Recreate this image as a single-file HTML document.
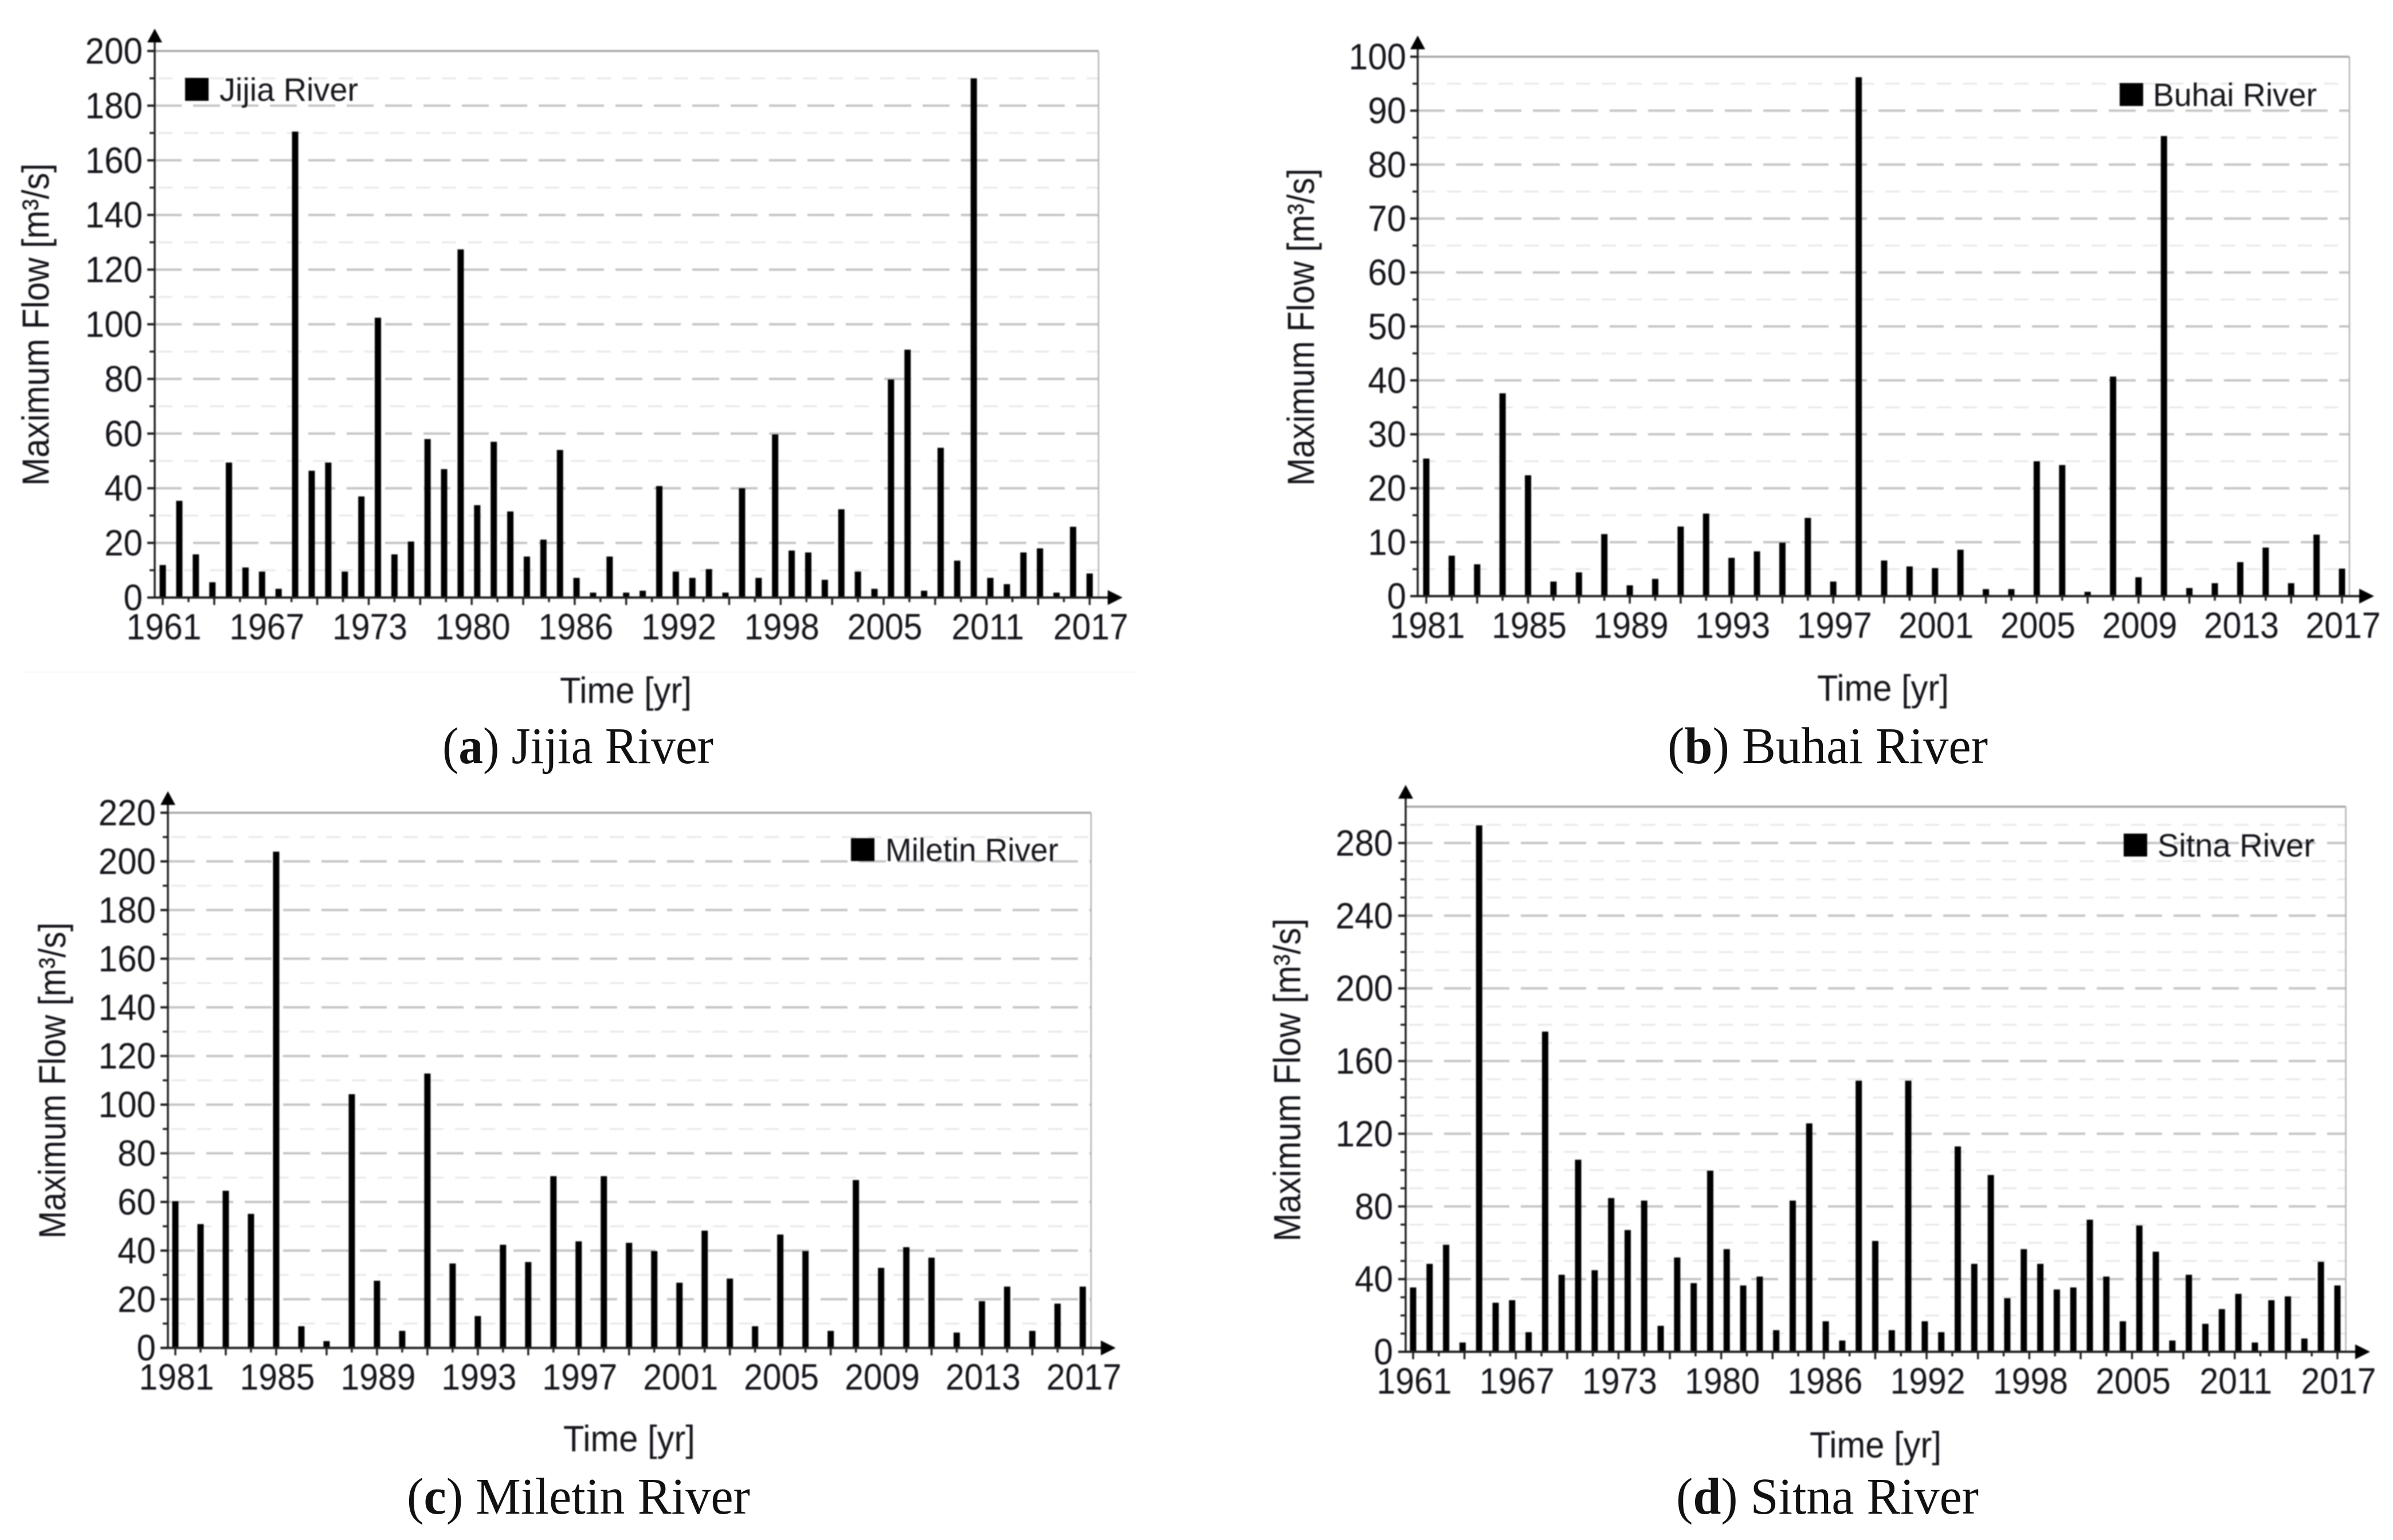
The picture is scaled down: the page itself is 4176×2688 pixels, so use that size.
<!DOCTYPE html>
<html lang="en">
<head>
<meta charset="utf-8">
<title>Maximum Flow of Four Rivers</title>
<style>
html,body{margin:0;padding:0;background:#fff;}
body{width:4176px;height:2688px;overflow:hidden;}
svg{display:block;}
.chart-ink{filter:blur(1.1px);}
.sans{font-family:"Liberation Sans",Arial,sans-serif;fill:#15151c;}
.serif{font-family:"Liberation Serif","Times New Roman",serif;fill:#111;}
</style>
</head>
<body>
<svg id="figure" xmlns="http://www.w3.org/2000/svg" width="4176" height="2688" viewBox="0 0 4176 2688">
<rect x="0" y="0" width="4176" height="2688" fill="#ffffff"/>
<line x1="40" y1="1173" x2="1985" y2="1173" stroke="#f5fbfb" stroke-width="3"/>
</svg>
<script>
const yearsFrom1961 = [1961,1962,1963,1964,1965,1966,1967,1968,1969,1970,1971,1972,1973,1974,1975,1976,1977,1978,1979,1980,1981,1982,1983,1984,1985,1986,1987,1988,1989,1990,1991,1992,1993,1994,1995,1996,1997,1998,1999,2000,2001,2002,2003,2004,2005,2006,2007,2008,2009,2010,2011,2012,2013,2014,2015,2016,2017];
const yearsFrom1981 = [1981,1982,1983,1984,1985,1986,1987,1988,1989,1990,1991,1992,1993,1994,1995,1996,1997,1998,1999,2000,2001,2002,2003,2004,2005,2006,2007,2008,2009,2010,2011,2012,2013,2014,2015,2016,2017];

const jijiaValues = [11.9,35.4,15.8,5.6,49.4,11,9.5,3.2,170.5,46.4,49.4,9.5,37,102.4,15.8,20.5,58,47,127.4,33.8,57,31.5,15,21.2,54,7.2,1.8,15,1.8,2.5,40.8,9.5,7.2,10.4,1.8,40,7.2,59.7,17.2,16.5,6.5,32.3,9.5,3.2,79.8,90.7,2.5,54.8,13.5,190,7.2,4.9,16.5,18,1.8,25.9,8.8];
const buhaiValues = [25.5,7.5,5.9,37.6,22.4,2.7,4.4,11.5,2,3.2,12.9,15.3,7.1,8.3,9.9,14.5,2.7,96.2,6.6,5.5,5.2,8.6,1.3,1.3,25,24.3,0.8,40.7,3.5,85.3,1.5,2.4,6.3,9,2.4,11.4,5.1];
const miletinValues = [60.3,50.9,64.6,55.1,204,8.9,2.8,104.3,27.6,7,112.8,34.7,13.1,42.4,35.3,70.6,43.8,70.6,43.2,39.8,26.8,48.2,28.5,8.9,46.6,39.8,7,69,32.9,41.4,37.1,6.3,19.2,25.2,7,18.2,25.2];
const sitnaValues = [35.4,48.4,58.9,5.1,289.7,27,28.4,10.8,176.2,42.4,105.7,44.9,84.6,67,83.2,14.3,51.9,37.8,99.7,56.5,36.5,41.4,11.9,83.2,125.7,16.8,6.2,149.2,61,11.9,149.2,16.8,10.8,113,48.4,97.3,29.5,56.5,48.4,34.3,35.4,72.7,41.4,16.8,69.5,55.1,6.2,42.4,15.4,23.5,31.9,5.1,28.4,30.5,7.3,49.5,36.5];

const xLabels1961 = ["1961","1967","1973","1980","1986","1992","1998","2005","2011","2017"];
const xLabels1981 = ["1981","1985","1989","1993","1997","2001","2005","2009","2013","2017"];
const jijiaYTicks = [0,20,40,60,80,100,120,140,160,180,200];
const jijiaYMinor = [10,30,50,70,90,110,130,150,170,190];
const buhaiYTicks = [0,10,20,30,40,50,60,70,80,90,100];
const buhaiYMinor = [5,15,25,35,45,55,65,75,85,95];
const miletinYTicks = [0,20,40,60,80,100,120,140,160,180,200,220];
const miletinYMinor = [10,30,50,70,90,110,130,150,170,190,210];
const sitnaYTicks = [0,40,80,120,160,200,240,280];
const sitnaYMinor = [10,20,30,50,60,70,90,100,110,130,140,150,170,180,190,210,220,230,250,260,270,290];

const NS = "http://www.w3.org/2000/svg";
const figure = document.getElementById("figure");

function makeEl(tag, attrs, parent) {
  const el = document.createElementNS(NS, tag);
  for (const k in attrs) el.setAttribute(k, attrs[k]);
  parent.appendChild(el);
  return el;
}

function drawPanel(p) {
  const yScale = v => p.zeroY - (v / p.yMax) * (p.zeroY - p.topY);
  const xScale = i => p.firstBarX + i * (p.lastBarX - p.firstBarX) / (p.values.length - 1);
  const xTickScale = i => p.firstBarX + i * (p.lastBarX - p.firstBarX) / 36;

  const g = makeEl("g", {class: "chart-ink"}, figure);
  
  

  p.yMinor.forEach(v => {
    const line = makeEl("line", {x1: p.axisX + 6, x2: p.rightX, y1: yScale(v), y2: yScale(v), stroke: "#e8e8e8", "stroke-width": 3, "stroke-dasharray": "25 20"}, g);
    
    
    const tick = makeEl("line", {x1: p.axisX - 9, x2: p.axisX, y1: yScale(v), y2: yScale(v), stroke: "#222", "stroke-width": 3.5}, g);
    
    
  });

  p.yTicks.forEach(v => {
    if (v > 0 && v < p.yMax) {
      const line = makeEl("line", {x1: p.axisX, x2: p.rightX, y1: yScale(v), y2: yScale(v), stroke: "#c4c4c4", "stroke-width": 4, "stroke-dasharray": "47 20"}, g);
      
      
    }
    const tick = makeEl("line", {x1: p.axisX - 13, x2: p.axisX, y1: yScale(v), y2: yScale(v), stroke: "#222", "stroke-width": 4}, g);
    
    
    const label = makeEl("text", {class: "sans", "font-size": 64, "text-anchor": "end", transform: "translate(" + p.labelRight + "," + (yScale(v) + 22) + ") scale(.94,1)"}, g);
    
    
    label.textContent = String(v);
  });

  const top = makeEl("line", {x1: p.axisX, x2: p.rightX, y1: p.topY, y2: p.topY, stroke: "#a6a6a6", "stroke-width": 3.5}, g);
  
  
  const right = makeEl("line", {x1: p.rightX, x2: p.rightX, y1: p.topY, y2: p.zeroY, stroke: "#b4b4b4", "stroke-width": 2.5}, g);
  
  

  p.values.forEach((v, i) => {
    const bar = makeEl("rect", {x: xScale(i) - 5.5, y: yScale(v), width: 11, height: p.zeroY - yScale(v), fill: "#000"}, g);
    
    
  });

  for (let i = 0; i < 37; i++) {
    const len = i % 2 === 0 ? 13 : 8;
    const tick = makeEl("line", {x1: xTickScale(i), x2: xTickScale(i), y1: p.zeroY, y2: p.zeroY + len, stroke: "#222", "stroke-width": 3.5}, g);
    
    
  }
  p.xLabels.forEach((t, i) => {
    const label = makeEl("text", {class: "sans", "font-size": 64, "text-anchor": "middle", transform: "translate(" + (xTickScale(i * 4) + 2) + "," + (p.zeroY + 73) + ") scale(.92,1)"}, g);
    
    
    label.textContent = t;
  });

  const yAxis = makeEl("line", {x1: p.axisX, x2: p.axisX, y1: p.arrowTopY + 20, y2: p.zeroY, stroke: "#222", "stroke-width": 3.5}, g);
  
  
  const xAxis = makeEl("line", {x1: p.axisX - 13, x2: p.arrowRightX - 20, y1: p.zeroY, y2: p.zeroY, stroke: "#222", "stroke-width": 4}, g);
  
  
  const upArrow = makeEl("polygon", {points: p.axisX + "," + p.arrowTopY + " " + (p.axisX + 13) + "," + (p.arrowTopY + 24) + " " + (p.axisX - 13) + "," + (p.arrowTopY + 24), fill: "#000"}, g);
  
  
  const rightArrow = makeEl("polygon", {points: p.arrowRightX + "," + p.zeroY + " " + (p.arrowRightX - 26) + "," + (p.zeroY - 13) + " " + (p.arrowRightX - 26) + "," + (p.zeroY + 13), fill: "#000"}, g);
  
  

  const yTitleMid = (p.yTitleTop + p.yTitleBottom) / 2;
  const yTitle = makeEl("text", {class: "sans", "font-size": 66, "text-anchor": "middle", textLength: p.yTitleBottom - p.yTitleTop, lengthAdjust: "spacingAndGlyphs", transform: "translate(" + p.yTitleX + "," + yTitleMid + ") rotate(-90)"}, g);
  
  
  yTitle.textContent = "Maximum Flow [m³/s]";

  const xTitle = makeEl("text", {class: "sans", "font-size": 64, x: p.xTitleX - 2, y: p.xTitleY, textLength: 230, lengthAdjust: "spacingAndGlyphs"}, g);
  
  
  xTitle.textContent = "Time [yr]";

  const swatch = makeEl("rect", {x: p.legendX, y: p.legendBase - 40, width: 41, height: 40, fill: "#000"}, g);
  
  
  const legend = makeEl("text", {class: "sans", "font-size": 57, x: p.legendTextX, y: p.legendBase, textLength: p.legendTextW, lengthAdjust: "spacingAndGlyphs"}, g);
  
  
  legend.textContent = p.title;

  const caption = makeEl("text", {class: "serif", "font-size": 90, x: p.capX, y: p.capY, textLength: p.capW, lengthAdjust: "spacingAndGlyphs"}, figure);
  
  
  caption.appendChild(document.createTextNode("("));
  const letter = makeEl("tspan", {"font-weight": "bold"}, caption);
  letter.textContent = p.letter;
  caption.appendChild(document.createTextNode(") " + p.title));
}

drawPanel({key:"jijia", title:"Jijia River", letter:"a", values:jijiaValues, years:yearsFrom1961, xLabels:xLabels1961, yTicks:jijiaYTicks, yMinor:jijiaYMinor, yMax:200,
  axisX:270, topY:89, zeroY:1043, rightX:1917, firstBarX:284, lastBarX:1901.5, arrowTopY:50, arrowRightX:1959, labelRight:249,
  yTitleX:85, yTitleTop:285, yTitleBottom:848, xTitleX:979, xTitleY:1227, legendX:323, legendBase:176, legendTextX:383, legendTextW:242,
  capX:772, capY:1332, capW:473});
drawPanel({key:"buhai", title:"Buhai River", letter:"b", values:buhaiValues, years:yearsFrom1981, xLabels:xLabels1981, yTicks:buhaiYTicks, yMinor:buhaiYMinor, yMax:100,
  axisX:2474, topY:99, zeroY:1040.5, rightX:4100, firstBarX:2489, lastBarX:4087, arrowTopY:62, arrowRightX:4143, labelRight:2454,
  yTitleX:2293, yTitleTop:294, yTitleBottom:848, xTitleX:3173, xTitleY:1223, legendX:3699, legendBase:185, legendTextX:3757, legendTextW:286,
  capX:2910, capY:1332, capW:559});
drawPanel({key:"miletin", title:"Miletin River", letter:"c", values:miletinValues, years:yearsFrom1981, xLabels:xLabels1981, yTicks:miletinYTicks, yMinor:miletinYMinor, yMax:220,
  axisX:293, topY:1418.6, zeroY:2352.7, rightX:1904, firstBarX:306, lastBarX:1889.5, arrowTopY:1381, arrowRightX:1947, labelRight:272,
  yTitleX:114, yTitleTop:1610, yTitleBottom:2162, xTitleX:985, xTitleY:2533, legendX:1485, legendBase:1503, legendTextX:1545, legendTextW:302,
  capX:710, capY:2642, capW:599});
drawPanel({key:"sitna", title:"Sitna River", letter:"d", values:sitnaValues, years:yearsFrom1961, xLabels:xLabels1961, yTicks:sitnaYTicks, yMinor:sitnaYMinor, yMax:300,
  axisX:2453, topY:1408, zeroY:2359.5, rightX:4093.6, firstBarX:2466, lastBarX:4079, arrowTopY:1370, arrowRightX:4136, labelRight:2431,
  yTitleX:2269, yTitleTop:1603, yTitleBottom:2167, xTitleX:3160, xTitleY:2544, legendX:3706, legendBase:1495, legendTextX:3765, legendTextW:274,
  capX:2925, capY:2642, capW:528});
</script>
</body>
</html>
